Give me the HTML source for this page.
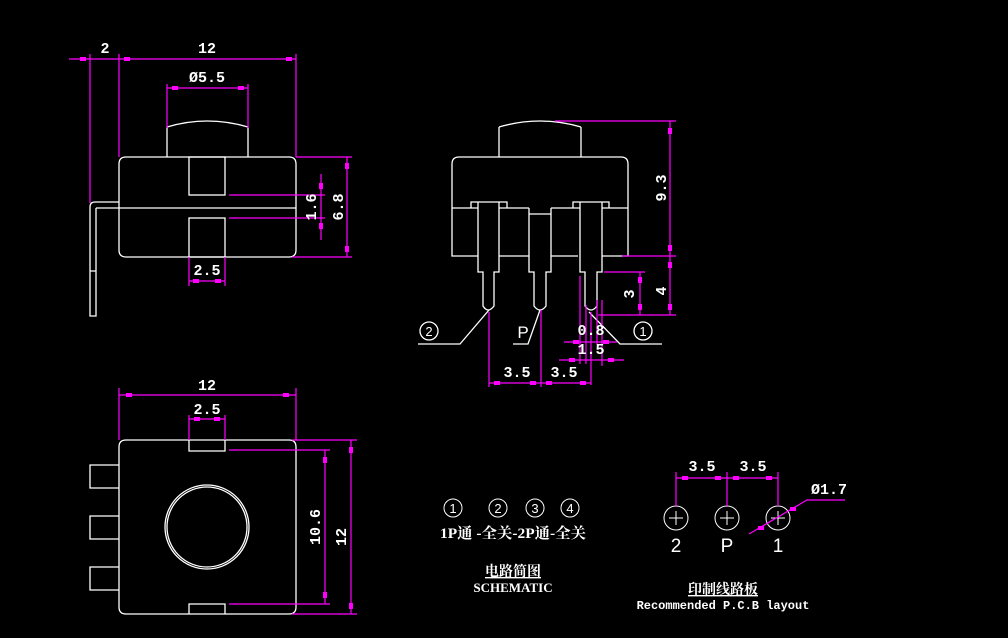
<!DOCTYPE html>
<html><head><meta charset="utf-8"><style>
html,body{margin:0;padding:0;background:#000;width:1008px;height:638px;overflow:hidden}
svg{display:block}
.w{stroke:#fff;fill:none;stroke-width:1.3}
.m{stroke:#f0f;fill:none;stroke-width:1.2}
.t{fill:#fff;font-family:"Liberation Mono",monospace;font-weight:bold;font-size:15px;text-anchor:middle}
.c{fill:#fff;font-family:"Liberation Serif","Noto Serif CJK SC",serif;font-weight:bold;font-size:13px;text-anchor:middle}
.a{fill:#f0f}
</style></head><body>
<svg width="1008" height="638" viewBox="0 0 1008 638">
<g class="w">
<path d="M167,127 Q207,115 248,127 L248,157 M167,127 L167,157"/>
<path d="M126,157 H289 Q296,157 296,164 V250 Q296,257 289,257 H126 Q119,257 119,250 V164 Q119,157 126,157 Z"/>
<rect x="189" y="157" width="36" height="38"/>
<rect x="189" y="218" width="36" height="39"/>
<path d="M96,208 H296"/>
<path d="M119,202 H95 Q90,202 90,207 V316 H96 V208 M90,271 H96"/>
</g>
<g class="m">
<path d="M69,59 H296 M90,54 V203 M119,54 V157 M296,54 V157"/>
<path d="M167,88 H248 M167,84 V128 M248,84 V128"/>
<path d="M229,195 H325 M229,218 H325 M321,174 V240"/>
<path d="M296,157 H352 M292,257 H352 M347,157 V257"/>
<path d="M189,257 V286 M225,257 V286 M189,281 H225"/>
</g>
<g class="a">
<rect x="80" y="57" width="6" height="4"/><rect x="124" y="57" width="6" height="4"/><rect x="286" y="57" width="6" height="4"/>
<rect x="172" y="86" width="6" height="4"/><rect x="238" y="86" width="6" height="4"/>
<rect x="319" y="183" width="4" height="6"/><rect x="319" y="223" width="4" height="6"/>
<rect x="345" y="163" width="4" height="6"/><rect x="345" y="246" width="4" height="6"/>
<rect x="193" y="279" width="6" height="4"/><rect x="215" y="279" width="6" height="4"/>
</g>
<text class="t" x="105" y="53">2</text>
<text class="t" x="207" y="53">12</text>
<text class="t" x="207" y="82">Ø5.5</text>
<text class="t" x="207" y="275">2.5</text>
<text class="t" transform="translate(316,207) rotate(-90)">1.6</text>
<text class="t" transform="translate(343,207) rotate(-90)">6.8</text>

<g class="w">
<path d="M499,127 Q540,115 581,127 M499,127 V157 M581,127 V157"/>
<path d="M459,157 H621 Q628,157 628,164 V256 H602 M578,256 H551 M529,256 H499 M478,256 H452 V164 Q452,157 459,157"/>
<path d="M452,208 H478 M499,208 H529 M551,208 H580 M602,208 H628"/>
<path d="M471,208 V202 H507 V208 M573,208 V202 H609 V208"/>
<path d="M478,202 V272 H483 V306 Q488,314 494,306 V272 H499 V202"/>
<path d="M529,208 V272 H534 V306 Q540,314 546,306 V272 H551 V208 M529,214 H551"/>
<path d="M580,202 V272 H585 V306 Q591,314 597,306 V272 H602 V202"/>
<circle cx="429" cy="331" r="9"/>
<circle cx="643" cy="331" r="9"/>
<path d="M418,344 H460 L489,310"/>
<path d="M513,344 H528 L540,310"/>
<path d="M662,344 H620 L589,312"/>
</g>
<text x="523" y="338" style="fill:#fff;font-family:'Liberation Sans',sans-serif;font-size:17px;text-anchor:middle">P</text>
<text x="429" y="336" style="fill:#fff;font-family:'Liberation Sans',sans-serif;font-size:13px;text-anchor:middle">2</text>
<text x="643" y="336" style="fill:#fff;font-family:'Liberation Sans',sans-serif;font-size:13px;text-anchor:middle">1</text>
<g class="m">
<path d="M555,121 H676 M670,121 V315 M622,256 H676 M598,315 H676"/>
<path d="M604,272 H645 M640,272 V315"/>
<path d="M489,312 V387 M541,310 V387 M591,312 V385 M489,383 H591"/>
<path d="M580,276 V364 M597,300 V345 M602,300 V366 M586,305 V364"/>
<path d="M564,342 H617 M559,360 H624"/>
</g>
<g class="a">
<rect x="668" y="128" width="4" height="6"/><rect x="668" y="245" width="4" height="6"/>
<rect x="668" y="262" width="4" height="6"/><rect x="668" y="304" width="4" height="6"/>
<rect x="638" y="277" width="4" height="6"/><rect x="638" y="304" width="4" height="6"/>
<rect x="494" y="381" width="6" height="4"/><rect x="530" y="381" width="6" height="4"/><rect x="546" y="381" width="6" height="4"/><rect x="580" y="381" width="6" height="4"/>
<rect x="573" y="340" width="6" height="4"/><rect x="603" y="340" width="6" height="4"/>
<rect x="569" y="358" width="6" height="4"/><rect x="608" y="358" width="6" height="4"/>
</g>
<text class="t" transform="translate(666,188) rotate(-90)">9.3</text>
<text class="t" transform="translate(666,291) rotate(-90)">4</text>
<text class="t" transform="translate(634,294) rotate(-90)">3</text>
<text class="t" x="591" y="335">0.8</text>
<text class="t" x="591" y="354">1.5</text>
<text class="t" x="517" y="377">3.5</text>
<text class="t" x="564" y="377">3.5</text>

<g class="w">
<path d="M126,440 H289 Q296,440 296,447 V607 Q296,614 289,614 H126 Q119,614 119,607 V447 Q119,440 126,440 Z"/>
<path d="M189,440 V451 H225 V440 M189,614 V604 H225 V614"/>
<path d="M119,465 H90 V488 H119 M119,516 H90 V539 H119 M119,567 H90 V590 H119"/>
<circle cx="207" cy="527" r="40"/>
<circle cx="207" cy="527" r="42"/>
</g>
<g class="m">
<path d="M119,388 V440 M296,388 V440 M119,395 H296"/>
<path d="M189,415 V440 M225,415 V440 M189,419 H225"/>
<path d="M229,450 H330 M229,604 H330 M325,450 V604"/>
<path d="M292,440 H357 M292,614 H357 M351,440 V614"/>
</g>
<g class="a">
<rect x="126" y="393" width="6" height="4"/><rect x="283" y="393" width="6" height="4"/>
<rect x="194" y="417" width="6" height="4"/><rect x="214" y="417" width="6" height="4"/>
<rect x="323" y="457" width="4" height="6"/><rect x="323" y="592" width="4" height="6"/>
<rect x="349" y="447" width="4" height="6"/><rect x="349" y="603" width="4" height="6"/>
</g>
<text class="t" x="207" y="390">12</text>
<text class="t" x="207" y="414">2.5</text>
<text class="t" transform="translate(320,527) rotate(-90)">10.6</text>
<text class="t" transform="translate(346,537) rotate(-90)">12</text>

<g class="w" style="stroke-width:1">
<circle cx="453" cy="508" r="9"/><circle cx="498" cy="508" r="9"/><circle cx="535" cy="508" r="9"/><circle cx="570" cy="508" r="9"/>
</g>
<g style="fill:#fff;font-family:'Liberation Sans',sans-serif;font-size:13px;text-anchor:middle">
<text x="453" y="513">1</text><text x="498" y="513">2</text><text x="535" y="513">3</text><text x="570" y="513">4</text>
</g>
<text class="c" x="513" y="538" style="font-size:15px" textLength="146" lengthAdjust="spacingAndGlyphs">1P通 -全关-2P通-全关</text>
<text class="c" x="513" y="576" style="font-size:14px;text-decoration:underline">电路简图</text>
<text class="c" x="513" y="592" style="font-size:13px">SCHEMATIC</text>

<g class="w" style="stroke-width:1">
<circle cx="676" cy="518" r="12"/><circle cx="727" cy="518" r="12"/><circle cx="778" cy="518" r="12"/>
<path d="M669,518 H683 M676,511 V525 M720,518 H734 M727,511 V525 M771,518 H785 M778,511 V525"/>
</g>
<g class="m">
<path d="M676,472 V506 M727,472 V506 M778,472 V506 M676,478 H778"/>
<path d="M749,534 L807,500 H845"/>
</g>
<g class="a">
<rect x="682" y="476" width="6" height="4"/><rect x="715" y="476" width="6" height="4"/><rect x="733" y="476" width="6" height="4"/><rect x="766" y="476" width="6" height="4"/>
<rect x="758" y="526" width="6" height="4"/><rect x="790" y="507" width="6" height="4"/>
</g>
<text class="t" x="702" y="471">3.5</text>
<text class="t" x="753" y="471">3.5</text>
<text class="t" x="829" y="494">Ø1.7</text>
<g style="fill:#fff;font-family:'Liberation Sans',sans-serif;font-size:19px;text-anchor:middle">
<text x="676" y="552">2</text><text x="727" y="552">P</text><text x="778" y="552">1</text>
</g>
<text class="c" x="723" y="594" style="font-size:14px;text-decoration:underline">印制线路板</text>
<text x="723" y="609" style="fill:#fff;font-family:'Liberation Mono',monospace;font-size:12px;text-anchor:middle;font-weight:bold">Recommended P.C.B layout</text>
</svg>
</body></html>
